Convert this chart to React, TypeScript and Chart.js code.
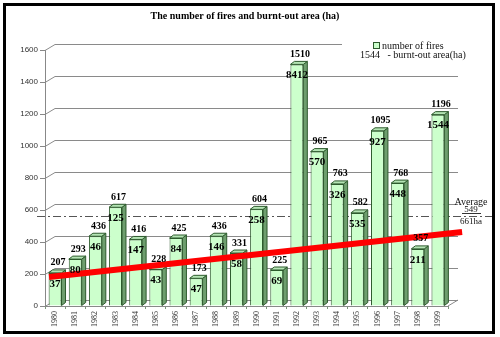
import { useEffect, useRef } from "react";
import { Chart, registerables } from "chart.js";
Chart.register(...registerables);

const years = ["1980","1981","1982","1983","1984","1985","1986","1987","1988","1989","1990","1991","1992","1993","1994","1995","1996","1997","1998","1999"];
const fires = [207,293,436,617,416,228,425,173,436,331,604,225,1510,965,763,582,1095,768,357,1196];
const areas = [37,80,46,125,147,43,84,47,146,58,258,69,8412,570,326,535,927,448,211,1544];
const yTicks = [0,200,400,600,800,1000,1200,1400,1600];
const trendX = [-0.3, 20.2];
const trendY = [181, 462];
const averageFires = 549;
const averageLines = ["Average", "549", "661ha"];
const titleText = "The number of fires and burnt-out area (ha)";
const legendLines = ["number of fires", "1544   - burnt-out area(ha)"];

const SERIF = "'Liberation Serif', 'Times New Roman', serif";
const SANS = "'Liberation Sans', Arial, sans-serif";

const decor = {
  id: "decor",
  beforeDatasetsDraw(chart: any) {
    const { ctx, chartArea, scales } = chart;
    const { left, right, bottom } = chartArea;
    const y = scales.y;
    const dx = 10, dy = 6;
    ctx.save();
    ctx.strokeStyle = "#8a8a8a";
    ctx.lineWidth = 1;
    for (const v of yTicks) {
      const py = Math.round(y.getPixelForValue(v)) + 0.5;
      ctx.beginPath();
      ctx.moveTo(left, py);
      ctx.lineTo(left + dx, py - dy);
      ctx.lineTo(right + dx, py - dy);
      ctx.stroke();
    }
    ctx.beginPath();
    ctx.moveTo(right, bottom);
    ctx.lineTo(right + dx, bottom - dy);
    ctx.stroke();
    const ay = Math.round(y.getPixelForValue(averageFires)) - 1.5;
    ctx.strokeStyle = "#555";
    ctx.setLineDash([8, 3, 2, 3]);
    ctx.beginPath();
    ctx.moveTo(37, ay);
    ctx.lineTo(495, ay);
    ctx.stroke();
    ctx.restore();
  },
  afterDatasetDraw(chart: any, args: any) {
    if (args.index !== 0) return;
    const { ctx } = chart;
    const meta = chart.getDatasetMeta(0);
    const d = 4, h = 3;
    ctx.save();
    ctx.lineWidth = 1;
    ctx.strokeStyle = "#2d5a2d";
    for (const el of meta.data) {
      const { x, y, base, width } = el.getProps(["x", "y", "base", "width"], true);
      const l = x - width / 2, r = x + width / 2;
      ctx.fillStyle = "#6e9e6e";
      ctx.beginPath();
      ctx.moveTo(r, y);
      ctx.lineTo(r + d, y - h);
      ctx.lineTo(r + d, base - h);
      ctx.lineTo(r, base);
      ctx.closePath();
      ctx.fill();
      ctx.stroke();
      ctx.fillStyle = "#b4e4b4";
      ctx.beginPath();
      ctx.moveTo(l, y);
      ctx.lineTo(l + d, y - h);
      ctx.lineTo(r + d, y - h);
      ctx.lineTo(r, y);
      ctx.closePath();
      ctx.fill();
      ctx.stroke();
    }
    ctx.restore();
  },
  afterDatasetsDraw(chart: any) {
    const { ctx, scales } = chart;
    const x = scales.x, y = scales.y;
    ctx.save();
    ctx.strokeStyle = "#ff0000";
    ctx.lineWidth = 6;
    ctx.beginPath();
    trendX.forEach((tx, i) => {
      const px = x.getPixelForValue(tx);
      const py = y.getPixelForValue(trendY[i]);
      if (i === 0) ctx.moveTo(px, py); else ctx.lineTo(px, py);
    });
    ctx.stroke();
    ctx.restore();
  },
  afterDraw(chart: any) {
    const { ctx } = chart;
    const meta = chart.getDatasetMeta(0);
    ctx.save();
    ctx.fillStyle = "#000";
    ctx.textAlign = "center";
    ctx.textBaseline = "middle";
    meta.data.forEach((el: any, i: number) => {
      const { x, y } = el.getProps(["x", "y"], true);
      ctx.font = `bold 10px ${SERIF}`;
      ctx.fillText(String(fires[i]), x + 3, y - 10);
      ctx.font = `bold 11px ${SERIF}`;
      ctx.fillText(String(areas[i]), x, y + 11);
    });
    ctx.font = `bold 10px ${SERIF}`;
    ctx.fillText(titleText, 245, 16);
    ctx.fillStyle = "#fff";
    ctx.fillRect(342, 36, 136, 26);
    ctx.fillStyle = "#ccffcc";
    ctx.fillRect(373.5, 42.5, 6, 6);
    ctx.strokeStyle = "#2d5a2d";
    ctx.lineWidth = 1;
    ctx.strokeRect(373.5, 42.5, 6, 6);
    ctx.fillStyle = "#111";
    ctx.font = `10px ${SERIF}`;
    ctx.textAlign = "left";
    ctx.fillText(legendLines[0], 382, 46);
    ctx.fillText(legendLines[1], 360, 55);
    ctx.textAlign = "center";
    ctx.font = `10px ${SERIF}`;
    ctx.fillText(averageLines[0], 471, 202);
    ctx.font = `9px ${SERIF}`;
    ctx.fillText(averageLines[1], 471, 210);
    ctx.fillText(averageLines[2], 471, 222);
    ctx.strokeStyle = "#333";
    ctx.beginPath();
    ctx.moveTo(462, 213.5);
    ctx.lineTo(481, 213.5);
    ctx.stroke();
    ctx.strokeStyle = "#000";
    ctx.lineWidth = 3;
    ctx.strokeRect(4.5, 4.5, 489, 328);
    ctx.restore();
  },
};

export default function App() {
  const ref = useRef<HTMLCanvasElement>(null);
  useEffect(() => {
    const chart = new Chart(ref.current!, {
      type: "bar",
      data: {
        labels: years,
        datasets: [
          {
            data: fires,
            backgroundColor: "#ccffcc",
            borderColor: "#2d5a2d",
            borderWidth: 1,
            barPercentage: 0.64,
            categoryPercentage: 1,
          } as any,
        ],
      },
      options: {
        responsive: false,
        animation: false,
        layout: { padding: { top: 50, right: 52, left: 0, bottom: 0 } },
        plugins: { legend: { display: false }, tooltip: { enabled: false }, title: { display: false } },
        scales: {
          x: {
            type: "category",
            grid: { drawOnChartArea: false, drawTicks: true, tickLength: 3, color: "#7a9a7a" },
            border: { display: true, color: "#888" },
            ticks: { minRotation: 90, maxRotation: 90, autoSkip: false, padding: 2, color: "#333", font: { family: SERIF, size: 8 } },
            afterFit: (s: any) => { s.height = 31; },
          },
          y: {
            min: 0,
            max: 1600,
            afterBuildTicks: (s: any) => { s.ticks = yTicks.map((v) => ({ value: v })); },
            grid: { drawOnChartArea: false, drawTicks: true, tickLength: 5, color: "#888" },
            border: { display: true, color: "#888" },
            ticks: { padding: 2, color: "#333", font: { family: SANS, size: 8 }, callback: (v: any) => String(v) },
            afterFit: (s: any) => { s.width = 45; },
          },
        },
      } as any,
      plugins: [decor],
    });
    return () => chart.destroy();
  }, []);
  return (
    <div style={{ position: "absolute", left: 0, top: 0, width: 500, height: 337, background: "#fff" }}>
      <canvas ref={ref} width={500} height={337} />
    </div>
  );
}
